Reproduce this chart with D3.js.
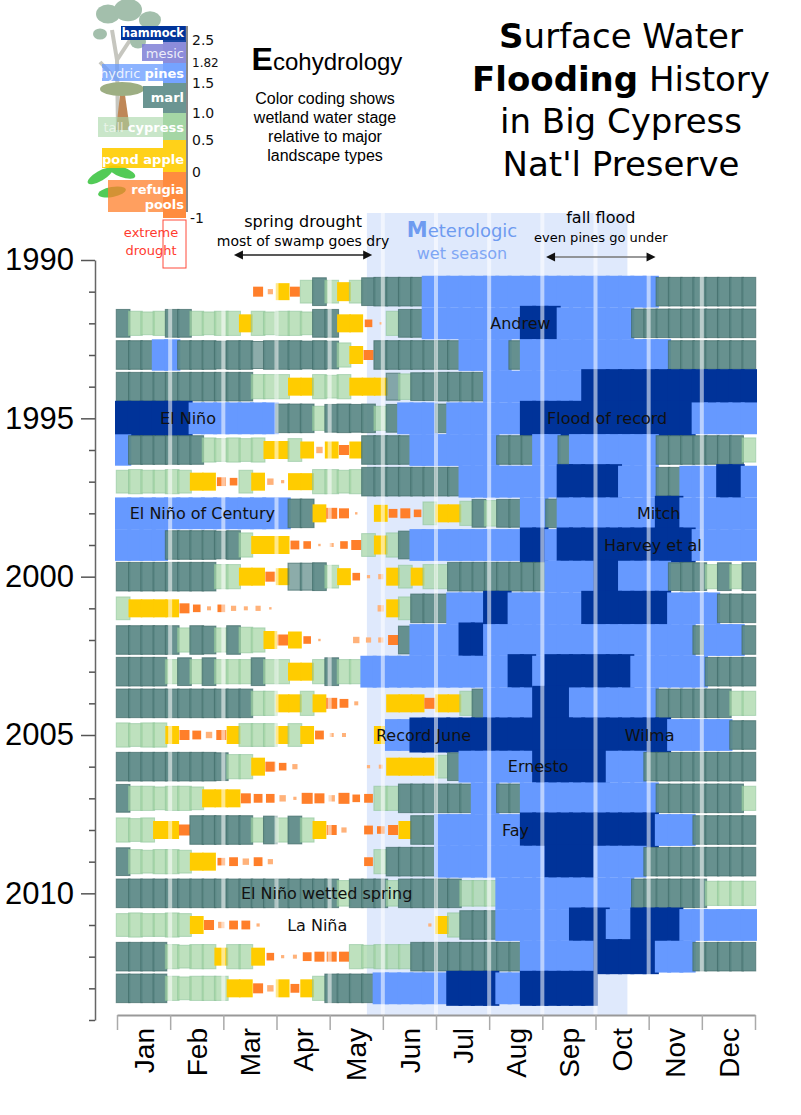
<!DOCTYPE html>
<html lang="en">
<head>
<meta charset="UTF-8">
<title>Surface Water Flooding History in Big Cypress</title>
<style>
  body { margin: 0; background: #fff; }
  svg text { font-family: "DejaVu Sans", Verdana, sans-serif; }
  .arial { font-family: "Liberation Sans", Arial, sans-serif; }
</style>
</head>
<body>
<script src="https://d3js.org/d3.v7.min.js"></script>
<script>
// ---- data: weekly water stage (m) per year, 52 weeks, null = no record ----
var months = ["Jan", "Feb", "Mar", "Apr", "May", "Jun", "Jul", "Aug", "Sep", "Oct", "Nov", "Dec"];
var years = [1991, 1992, 1993, 1994, 1995, 1996, 1997, 1998, 1999, 2000, 2001, 2002,
             2003, 2004, 2005, 2006, 2007, 2008, 2009, 2010, 2011, 2012, 2013];
var yearTicks = [1990, 1995, 2000, 2005, 2010];

var s1991 = [null,null,null,null,null,null,null,null,null,null,null,-0.5,-0.9,0.2,-0.5,0.7,1.1,0.7,0.4,0.7,1.1,1.2,1.2,1.2,1.2,1.7,1.7,1.7,1.7,1.7,1.7,1.7,1.7,1.7,1.7,1.7,1.7,1.7,1.7,1.7,1.7,1.7,1.7,1.7,1.2,1.2,1.2,1.2,1.2,1.2,1.2,1.2];
var s1992 = [1.1,0.8,0.7,0.8,1.1,1.1,0.8,0.7,0.8,0.8,0.3,0.8,0.7,0.8,0.8,0.7,1.1,1.1,0.3,0.3,-0.7,-1.2,0.8,1.1,1.1,1.7,1.7,1.7,1.7,1.7,1.7,1.7,1.7,2.6,2.6,2.6,1.7,1.7,1.7,1.7,1.7,1.7,1.2,1.2,1.2,1.2,1.2,1.2,1.2,1.2,1.2,1.2];
var s1993 = [1.2,1.2,1.2,1.6,1.6,1.2,1.2,1.2,1.1,1.2,1.2,1.0,1.2,1.2,1.2,1.1,1.2,1.1,0.8,0.3,-0.5,1.2,1.2,1.2,1.2,1.2,1.2,1.2,1.7,1.7,1.7,1.7,1.2,1.7,1.7,1.7,1.7,1.7,1.7,1.7,1.7,1.7,1.7,1.7,1.7,1.2,1.2,1.2,1.2,1.2,1.2,1.2];
var s1994 = [1.2,1.2,1.2,1.2,1.2,1.2,1.2,1.2,1.2,1.2,1.2,0.8,0.8,0.8,0.3,0.3,0.8,0.7,0.8,0.3,0.3,0.3,1.0,0.9,1.1,1.1,1.2,1.2,1.2,1.2,1.7,1.7,1.7,1.7,1.7,1.7,1.7,1.7,2.6,2.6,2.6,2.6,2.6,2.6,2.6,2.6,2.6,2.6,2.6,2.6,2.6,2.6];
var s1995 = [2.6,2.6,2.6,2.6,2.6,2.6,1.7,1.7,1.7,1.7,1.7,1.7,1.7,1.2,1.2,1.2,0.8,1.1,1.2,1.1,1.2,0.8,1.1,1.7,1.7,1.7,1.2,1.7,1.7,1.7,1.7,1.7,1.7,2.6,2.6,2.6,2.6,2.6,2.6,2.6,2.6,2.6,2.6,2.6,2.6,2.6,2.6,1.7,1.7,1.7,1.7,1.7];
var s1996 = [1.6,1.2,1.2,1.2,1.2,1.2,1.2,0.8,0.7,0.8,0.7,0.8,0.3,0.3,0.7,0.2,-0.8,0.2,-0.5,0.2,1.2,1.2,1.2,1.2,1.7,1.7,1.7,1.7,1.7,1.7,1.7,1.2,1.2,1.2,1.7,1.7,1.2,1.7,1.7,1.7,1.7,1.7,1.7,1.7,1.2,1.2,1.2,1.2,1.2,1.2,1.2,0.8];
var s1997 = [0.7,0.8,0.7,0.7,0.8,0.7,0.3,0.3,-0.6,-0.7,0.7,0.3,-0.8,-1.1,0.2,0.2,0.8,0.8,0.7,0.8,1.2,1.2,1.2,1.2,1.2,1.2,1.2,1.2,1.7,1.7,1.7,1.7,1.7,1.7,1.7,1.7,2.6,2.6,2.6,2.6,2.6,1.7,1.7,1.7,1.2,1.2,1.7,1.7,1.7,2.6,2.6,1.7];
var s1998 = [1.7,1.7,1.7,1.7,1.7,1.7,1.7,1.7,1.7,1.7,1.7,1.7,1.7,1.7,1.2,1.2,0.3,-0.4,-0.5,-1.2,-1.6,0.2,-0.6,-0.5,-0.7,0.7,0.3,0.3,0.8,1.1,0.9,1.1,1.1,1.7,1.7,1.2,1.7,1.7,1.7,1.7,1.7,1.7,1.7,1.7,2.6,2.6,1.7,1.7,1.7,1.7,1.7,1.7];
var s1999 = [1.7,1.7,1.7,1.7,1.2,1.2,1.2,1.2,1.1,1.2,0.8,0.3,0.3,0.3,-0.6,-0.7,-1.2,-1.0,-0.7,-0.5,0.7,0.4,0.8,1.1,1.7,1.7,1.7,1.7,1.7,1.7,1.7,1.7,1.7,2.6,2.6,1.7,2.6,2.6,2.6,2.6,2.6,2.6,2.6,2.6,2.6,2.6,2.6,1.7,1.7,1.7,1.7,1.7];
var s2000 = [1.2,1.2,1.2,1.2,1.2,1.2,1.2,1.2,0.8,0.8,0.3,0.3,-0.5,0.2,1.0,1.0,1.1,0.7,0.2,-0.7,-1.1,-0.9,0.3,0.7,0.3,0.8,0.8,1.2,1.2,1.2,1.2,1.2,1.2,1.2,1.2,1.7,1.7,1.7,1.7,2.6,2.6,1.7,1.7,1.7,1.7,1.1,1.2,1.1,0.8,1.1,0.8,1.1];
var s2001 = [0.7,0.3,0.3,0.3,0.3,-0.5,-0.7,-1.0,-0.7,-0.9,-1.0,-0.9,-1.2,-1.6,-1.6,-1.6,-1.6,-1.6,-1.6,-1.6,-1.6,-0.8,0.3,0.7,1.2,1.2,1.2,1.7,1.7,1.7,2.6,2.6,1.7,1.7,1.7,1.7,1.7,1.7,2.6,2.6,2.6,2.6,2.6,2.6,2.6,1.7,1.7,1.7,1.7,1.2,1.2,1.2];
var s2002 = [1.2,1.2,1.2,1.2,1.2,0.8,1.2,1.1,0.8,1.2,0.9,0.8,0.3,-0.4,0.2,-0.7,-1.2,-1.6,-1.6,-0.8,-0.9,-0.9,-0.5,1.1,1.7,1.7,1.7,1.7,2.6,2.6,1.7,1.7,1.7,1.7,1.7,1.7,1.7,1.7,1.7,1.7,1.7,1.7,1.7,1.7,1.7,1.7,1.7,1.2,1.7,1.7,1.7,1.2];
var s2003 = [1.2,1.2,1.2,1.2,0.8,1.1,0.8,1.1,0.8,0.8,0.8,1.1,0.8,0.8,0.3,0.3,0.8,1.1,0.8,0.8,1.7,1.7,1.7,1.7,1.7,1.7,1.7,1.7,1.7,1.7,1.7,1.7,2.6,2.6,1.7,2.6,2.6,2.6,2.6,2.6,2.6,2.6,1.7,1.7,1.7,1.7,1.7,1.7,1.2,1.2,1.2,1.2];
var s2004 = [1.2,1.2,1.2,1.2,1.2,1.2,1.2,1.2,1.2,1.2,1.2,0.8,0.8,0.3,0.3,0.8,0.3,-0.4,-0.6,-1.0,-1.6,-1.6,0.3,0.3,0.3,-0.4,0.3,0.3,0.8,1.2,1.7,1.7,1.7,1.7,2.6,2.6,2.6,1.7,1.7,1.7,1.7,1.7,1.7,1.7,1.2,1.2,1.2,1.2,1.2,1.2,0.8,0.8];
var s2005 = [0.8,0.7,0.8,0.8,0.3,-0.5,-0.6,-0.8,-0.5,0.3,0.7,0.7,0.7,0.3,0.7,0.3,-0.6,-1.0,-1.0,-1.6,-1.6,0.3,1.7,1.7,2.6,2.6,2.6,2.6,2.6,2.6,2.6,2.6,2.6,2.6,2.6,2.6,2.6,2.6,2.6,2.6,2.6,2.6,2.6,2.6,2.6,1.7,1.7,1.7,1.7,1.7,1.2,1.2];
var s2006 = [1.2,1.2,1.2,1.2,1.2,1.2,1.2,1.2,1.1,0.8,0.8,0.3,-0.5,-0.7,-0.9,-1.6,-1.6,-1.6,-1.6,-1.6,-1.1,-1.0,0.3,0.3,0.3,0.3,0.7,1.1,1.7,1.7,1.7,1.7,1.7,1.7,2.6,2.6,2.6,2.6,2.6,2.6,1.7,1.7,1.7,1.2,1.2,1.2,1.2,1.2,1.2,1.2,1.2,1.2];
var s2007 = [1.1,0.8,0.8,0.7,0.8,0.8,0.7,0.3,0.3,0.3,-0.5,-0.6,-0.6,-0.8,-1.1,-0.4,-0.5,-0.8,-0.4,-0.7,-0.6,0.8,0.8,1.2,1.2,1.2,1.2,1.2,1.2,1.7,1.7,1.2,1.2,1.7,1.7,1.7,1.7,1.7,1.7,1.7,1.7,1.7,1.7,1.7,1.2,1.2,1.2,1.2,1.2,1.2,1.2,0.8];
var s2008 = [0.8,0.7,0.8,0.3,0.3,-0.4,1.2,1.2,1.2,1.2,1.2,0.8,1.1,0.8,1.1,0.8,0.3,-0.5,-0.9,-1.6,-0.6,-0.7,-0.5,0.3,1.2,1.2,1.7,1.7,1.7,1.7,1.7,1.7,1.7,2.6,2.6,2.6,2.6,2.6,2.6,2.6,2.6,2.6,2.6,2.6,1.7,1.7,1.7,1.2,1.2,1.2,1.2,1.2];
var s2009 = [1.1,0.8,0.7,0.8,0.8,0.7,0.3,0.3,-0.7,-0.6,-0.8,-0.6,-0.9,-1.6,-1.6,-1.6,-1.6,-1.6,-1.6,-1.6,-0.6,0.8,1.2,1.2,1.2,1.2,1.7,1.7,1.7,1.7,1.7,1.7,1.7,1.7,1.7,2.6,2.6,2.6,2.6,1.7,1.7,1.7,1.7,1.2,1.2,1.2,1.2,1.2,1.2,1.2,1.2,1.2];
var s2010 = [1.2,1.2,1.2,1.2,1.2,1.2,1.2,1.2,1.2,1.2,1.2,1.2,1.2,1.2,1.2,1.2,1.2,1.2,0.9,1.2,1.2,1.2,0.9,1.2,1.2,1.2,1.2,1.2,0.9,0.9,0.9,1.7,1.7,1.7,1.7,1.7,1.7,1.7,1.7,1.7,1.7,1.7,1.2,1.2,1.2,1.2,1.2,1.2,0.8,0.8,0.8,0.8];
var s2011 = [0.7,0.8,0.7,0.7,0.8,0.7,0.3,-0.5,-0.8,-0.6,-0.6,-1.1,-1.6,-1.6,-1.6,-1.6,-1.6,-1.6,-1.6,-1.6,-1.6,-1.6,-1.6,-1.6,-1.6,-1.1,0.3,0.8,1.2,1.2,1.2,1.7,1.7,1.7,1.7,1.7,1.7,2.6,2.6,2.6,1.7,1.7,2.6,2.6,2.6,2.6,1.7,1.7,1.7,1.7,1.7,1.7];
var s2012 = [1.2,1.2,1.2,1.2,0.8,0.7,0.8,0.8,0.3,0.8,0.8,0.3,-0.7,-1.1,-1.0,-0.6,-0.5,-0.5,-0.5,0.8,0.7,0.8,0.8,0.8,1.2,1.2,1.2,1.2,1.2,1.2,1.2,1.2,1.2,1.7,1.7,1.7,1.7,1.7,1.7,2.6,2.6,2.6,2.6,2.6,1.7,1.7,1.7,1.2,1.2,1.2,1.2,1.2];
var s2013 = [1.2,1.2,1.2,1.2,0.8,0.7,0.8,0.8,0.8,0.3,0.3,-0.5,-0.8,0.3,-0.6,0.3,0.8,1.2,1.2,1.2,1.2,1.7,1.7,1.7,1.7,1.7,1.7,2.6,2.6,2.6,2.6,1.7,1.7,2.6,2.6,2.6,2.6,2.6,2.6,null,null,null,null,null,null,null,null,null,null,null,null,null];
var stages = [s1991, s1992, s1993, s1994, s1995, s1996, s1997, s1998, s1999, s2000, s2001, s2002,
              s2003, s2004, s2005, s2006, s2007, s2008, s2009, s2010, s2011, s2012, s2013];

// landscape classes, legend stage ticks
var classNames = ["refugia pools", "pond apple", "tall cypress", "marl", "hydric pines", "mesic", "hammock"];
var classBreaks = [0, 0.5, 1.0, 1.5, 1.82, 2.5];
var classColors = ["#ff7f2a", "#ffcc00", "#a5d6a5", "#5b8986", "#6699ff", "#7f7fd6", "#003399"];
var legendTicks = [2.5, 1.82, 1.5, 1.0, 0.5, 0, -1];

// event notes: label, year, month position
var noteText = ["Andrew", "El Niño", "Flood of record", "El Niño of Century", "Mitch", "Harvey et al",
                "Record June", "Wilma", "Ernesto", "Fay", "El Niño wetted spring", "La Niña"];
var noteYear = [1992, 1995, 1995, 1998, 1998, 1999, 2005, 2005, 2006, 2008, 2010, 2011];
var noteMonth = [7.02, 0.81, 8.09, 0.24, 9.78, 9.16, 4.87, 9.55, 7.35, 7.24, 2.33, 3.2];

var wetSeason = [4.7, 9.6];   // months
var springDrought = [2.2, 4.8];
var fallFlood = [8.07, 10.13];

// ---- layout ----
var W = 801, H = 1115;
var svg = d3.select("body").append("svg").attr("width", W).attr("height", H);

var x = d3.scaleLinear().domain([0, 12]).range([117, 755]);
var y = d3.scaleLinear().domain([1990, 2014]).range([260, 1020]);
var wk = x(12 / 52) - x(0);
function weekMid(w) { return (w + 0.5) * 12 / 52; }

var hScale = d3.scaleLinear()
  .domain([-1.5, -1, -0.5, 0, 0.5, 1, 1.5, 2.5])
  .range([0, 4, 10, 15, 20, 27, 31, 35]).clamp(true);
var color = d3.scaleThreshold().domain(classBreaks).range(classColors);

var plotTop = 213, plotBottom = 1015;

// wet season band
svg.append("rect")
  .attr("x", x(wetSeason[0])).attr("y", plotTop)
  .attr("width", x(wetSeason[1]) - x(wetSeason[0]))
  .attr("height", plotBottom - plotTop)
  .attr("fill", "#dfe9fc");

// weekly stage marks
var rows = svg.append("g").selectAll("g")
  .data(stages)
  .join("g")
  .attr("transform", function(d, i) { return "translate(0," + y(years[i]) + ")"; });

rows.selectAll("rect")
  .data(function(vals) {
    return vals.map(function(v, w) { return { v: v, w: w }; })
      .filter(function(d) { return d.v !== null && hScale(d.v) > 1; });
  })
  .join("rect")
  .each(function(d) {
    var h = hScale(d.v);
    var wd = d.v >= 1.5 ? wk + 4 : Math.min(h, wk + 1.5);
    var c = color(d.v);
    var r = d3.select(this)
      .attr("x", x(weekMid(d.w)) - wd / 2)
      .attr("y", -h / 2)
      .attr("width", wd)
      .attr("height", h)
      .attr("fill", c);
    if (d.v >= 0.5 && d.v < 1) {
      r.attr("fill-opacity", 0.72).attr("stroke", "#8cc39a").attr("stroke-opacity", 0.6);
    } else if (d.v >= 1 && d.v < 1.5) {
      r.attr("fill-opacity", d.v < 1.1 ? 0.7 : 0.93).attr("stroke", "#3f6a67").attr("stroke-width", 1).attr("stroke-opacity", 0.7);
    } else if (d.v < 0 && d.v > -0.75) {
      r.attr("fill", "#ff7f2a");
    } else if (d.v <= -0.75) {
      r.attr("fill", "#ffb27a");
    }
  });

// month dividers (translucent white)
svg.append("g").selectAll("line")
  .data(d3.range(1, 12))
  .join("line")
  .attr("x1", function(d) { return x(d); }).attr("x2", function(d) { return x(d); })
  .attr("y1", plotTop).attr("y2", plotBottom)
  .attr("stroke", "#fff").attr("stroke-width", 4).attr("stroke-opacity", 0.55);

// event labels
svg.append("g").selectAll("text")
  .data(noteText)
  .join("text")
  .attr("x", function(d, i) { return x(noteMonth[i]); })
  .attr("y", function(d, i) { return y(noteYear[i]); })
  .attr("dy", "0.36em")
  .attr("font-size", 16)
  .attr("fill", "#111")
  .text(function(d) { return d; });

// y axis
var yAxis = svg.append("g")
  .attr("transform", "translate(95,0)")
  .call(d3.axisLeft(y).tickValues(d3.range(1990, 2015)).tickSize(14).tickSizeOuter(0)
    .tickFormat(function(d) { return yearTicks.indexOf(d) >= 0 ? d : ""; }));
yAxis.select(".domain").attr("stroke", "#666").attr("stroke-width", 1.5);
yAxis.selectAll(".tick line").attr("stroke", "#555").attr("stroke-width", 1.5)
  .attr("x2", function(d) { return yearTicks.indexOf(d) >= 0 ? -14 : -6; });
yAxis.selectAll(".tick text").attr("x", -21).attr("class", "arial")
  .attr("font-size", 31).attr("fill", "#000");

// x axis
var xAxis = svg.append("g")
  .attr("transform", "translate(0," + plotBottom + ")")
  .call(d3.axisBottom(x).tickValues(d3.range(0, 13)).tickSize(15).tickSizeOuter(0).tickFormat(""));
xAxis.select(".domain").attr("stroke", "#999").attr("stroke-width", 2);
xAxis.selectAll(".tick line").attr("stroke", "#aaa").attr("stroke-width", 1.5);

svg.append("g").selectAll("text")
  .data(months)
  .join("text")
  .attr("class", "arial")
  .attr("transform", function(d, i) { return "translate(" + x(i + 0.5) + "," + (plotBottom + 13) + ") rotate(-90)"; })
  .attr("text-anchor", "end")
  .attr("dy", "0.36em")
  .attr("font-size", 28)
  .attr("fill", "#000")
  .text(function(d) { return d; });

// header annotations
function arrow(x1, x2, yy, col) {
  svg.append("line").attr("x1", x1 + 6).attr("x2", x2 - 6).attr("y1", yy).attr("y2", yy)
    .attr("stroke", col).attr("stroke-width", 1.5);
  svg.append("path").attr("d", "M" + x1 + "," + yy + "l9,-4.5v9z").attr("fill", "#111");
  svg.append("path").attr("d", "M" + x2 + "," + yy + "l-9,-4.5v9z").attr("fill", "#111");
}
var sd = (x(springDrought[0]) + x(springDrought[1])) / 2;
svg.append("text").attr("x", sd).attr("y", 227).attr("text-anchor", "middle").attr("font-size", 16).text("spring drought");
svg.append("text").attr("x", sd).attr("y", 246).attr("text-anchor", "middle").attr("font-size", 14).text("most of swamp goes dry");
arrow(x(springDrought[0]), x(springDrought[1]), 255, "#222");

var ws = 462;
var met = svg.append("text").attr("x", ws).attr("y", 237).attr("text-anchor", "middle").attr("fill", "#6e9bf0").attr("font-size", 18);
met.append("tspan").attr("font-weight", "bold").attr("font-size", 21).text("M");
met.append("tspan").text("eterologic");
svg.append("text").attr("x", ws).attr("y", 259).attr("text-anchor", "middle").attr("fill", "#7ea6f4").attr("font-size", 16).text("wet season");

var ff = (x(fallFlood[0]) + x(fallFlood[1])) / 2;
svg.append("text").attr("x", ff).attr("y", 223).attr("text-anchor", "middle").attr("font-size", 16).text("fall flood");
svg.append("text").attr("x", ff).attr("y", 242).attr("text-anchor", "middle").attr("font-size", 13).text("even pines go under");
arrow(x(fallFlood[0]), x(fallFlood[1]), 257, "#777");

// title
var title = svg.append("g").attr("text-anchor", "middle").attr("font-size", 34).attr("fill", "#000");
var t1 = title.append("text").attr("x", 621).attr("y", 48);
t1.append("tspan").attr("font-weight", "bold").text("S");
t1.append("tspan").text("urface Water");
var t2 = title.append("text").attr("x", 621).attr("y", 91);
t2.append("tspan").attr("font-weight", "bold").text("Flooding");
t2.append("tspan").text(" History");
title.append("text").attr("x", 621).attr("y", 133).text("in Big Cypress");
title.append("text").attr("x", 621).attr("y", 176).text("Nat'l Preserve");

// ecohydrology note
var eco = svg.append("text").attr("class", "arial").attr("x", 327).attr("y", 70).attr("text-anchor", "middle").attr("fill", "#000");
eco.append("tspan").attr("font-weight", "bold").attr("font-size", 32).text("E");
eco.append("tspan").attr("font-size", 24).text("cohydrology");
svg.append("g").selectAll("text")
  .data(["Color coding shows", "wetland water stage", "relative to major", "landscape types"])
  .join("text")
  .attr("class", "arial")
  .attr("x", 325).attr("y", function(d, i) { return 104 + i * 19; })
  .attr("text-anchor", "middle").attr("font-size", 16)
  .text(function(d) { return d; });

// ---- legend ----
var lg = svg.append("g");
var ly = d3.scaleLinear()
  .domain([2.9, 2.5, 1.82, 1.5, 1.0, 0.5, 0, -1])
  .range([26, 42, 63, 83, 113, 140, 172, 218]);

// simple landscape sketches behind the labels
var art = lg.append("g").attr("opacity", 0.85);
art.append("path").attr("d", "M118,132 L117,60 L112,30 M117,60 L134,34 M117,80 L100,62")
  .attr("stroke", "#bdbdb5").attr("stroke-width", 4).attr("fill", "none");
[[108, 14, 12], [128, 10, 14], [150, 20, 11], [100, 34, 7], [138, 42, 8]].forEach(function(c) {
  art.append("ellipse").attr("cx", c[0]).attr("cy", c[1]).attr("rx", c[2]).attr("ry", c[2] * 0.8).attr("fill", "#93b59e");
});
art.append("path").attr("d", "M120,95 L116,130 L130,130 L125,95 Z").attr("fill", "#b4733a");
art.append("ellipse").attr("cx", 122).attr("cy", 89).attr("rx", 22).attr("ry", 7).attr("fill", "#8da06e");
[[100, 176, -30], [122, 172, 20], [112, 192, -10]].forEach(function(c) {
  art.append("ellipse").attr("cx", c[0]).attr("cy", c[1]).attr("rx", 14).attr("ry", 5)
    .attr("transform", "rotate(" + c[2] + "," + c[0] + "," + c[1] + ")").attr("fill", "#35c23a");
});

var bands = [[-1, 0], [0, 0.5], [0.5, 1.0], [1.0, 1.5], [1.5, 1.82], [1.82, 2.5], [2.5, 2.9]];
lg.selectAll("rect.band")
  .data(bands)
  .join("rect")
  .attr("class", "band")
  .attr("x", 163).attr("width", 23)
  .attr("y", function(d) { return ly(d[1]); })
  .attr("height", function(d) { return ly(d[0]) - ly(d[1]); })
  .attr("fill", function(d, i) { return classColors[i]; })
  .attr("fill-opacity", function(d, i) { return i === 2 ? 1 : 0.9; });

// extreme drought box
lg.append("rect").attr("x", 163).attr("y", 220).attr("width", 23).attr("height", 48)
  .attr("fill", "#fff").attr("stroke", "#ff4a3a").attr("stroke-width", 1);
lg.selectAll("text.ext")
  .data(["extreme", "drought"])
  .join("text")
  .attr("class", "ext")
  .attr("x", 151).attr("y", function(d, i) { return 237 + i * 18; })
  .attr("text-anchor", "middle").attr("font-size", 13).attr("fill", "#ff3b2f")
  .text(function(d) { return d; });

// class label boxes
var labelBox = [[108, 180, 212], [102, 148, 168], [98, 117, 137], [143, 86, 108], [102, 64, 81], [142, 44, 61], [121, 26, 40]];
lg.selectAll("rect.lab")
  .data(labelBox)
  .join("rect")
  .attr("class", "lab")
  .attr("x", function(d) { return d[0]; }).attr("y", function(d) { return d[1]; })
  .attr("width", function(d, i) { return (i === 6 ? 185 : 163) - d[0]; })
  .attr("height", function(d) { return d[2] - d[1]; })
  .attr("fill", function(d, i) { return classColors[i]; })
  .attr("fill-opacity", function(d, i) { return [0.75, 0.9, 0.6, 0.9, 0.75, 0.85, 1][i]; });

function classLabel(i, parts, yy, fs) {
  var t = lg.append("text").attr("x", 184).attr("y", yy).attr("text-anchor", "end")
    .attr("font-size", fs || 13).attr("fill", "#fff");
  parts.forEach(function(p) {
    t.append("tspan").attr("font-weight", p[1] ? "bold" : "normal").attr("fill-opacity", p[2] || 1).text(p[0]);
  });
}
classLabel(6, [["hammock", true]], 37, 11.5);
classLabel(5, [["mesic", false, 0.85]], 58);
classLabel(4, [["hydric ", false, 0.85], ["pines", true]], 78);
classLabel(3, [["marl", true]], 102);
classLabel(2, [["tall ", false, 0.6], ["cypress", true]], 132);
classLabel(1, [["pond apple", true]], 164);
classLabel(0, [["refugia", true]], 194);
classLabel(0, [["pools", true]], 209);

// legend stage axis
lg.append("line").attr("x1", 187).attr("x2", 187).attr("y1", 26).attr("y2", 212)
  .attr("stroke", "#888").attr("stroke-width", 2);
lg.selectAll("text.tk")
  .data(legendTicks)
  .join("text")
  .attr("class", "tk")
  .attr("x", function(d) { return d < 0 ? 190 : 192; })
  .attr("y", function(d) { return ly(d); })
  .attr("dy", function(d) { return d === 2.5 ? "0.2em" : "0.36em"; })
  .attr("font-size", function(d) { return d === 1.82 ? 12 : 14; })
  .attr("fill", "#111")
  .text(function(d) { return d === 1 ? "1.0" : d; });
</script>
</body>
</html>
